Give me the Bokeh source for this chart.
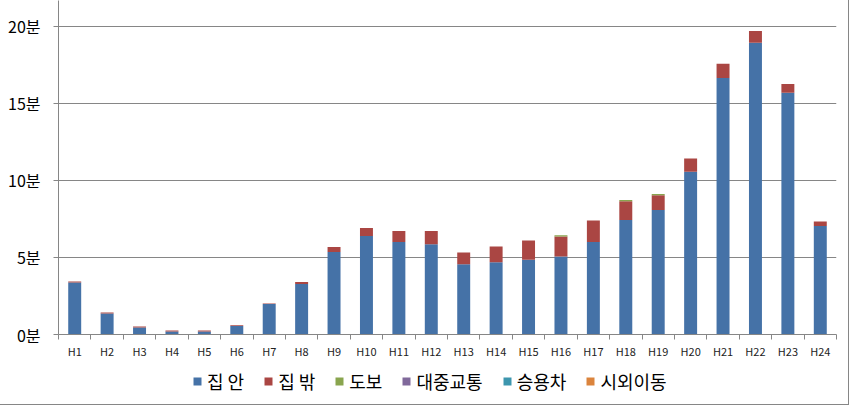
from bokeh.plotting import figure
from bokeh.layouts import column
from bokeh.models import (ColumnDataSource, Legend, LegendItem, FixedTicker,
                          PrintfTickFormatter, Range1d)
from bokeh.embed import file_html
from bokeh.resources import INLINE

categories = [f"H{i}" for i in range(1, 25)]
home_in = [3.38, 1.36, 0.45, 0.19, 0.19, 0.55, 1.97, 3.27, 5.35, 6.38, 6.0, 5.86,
           4.55, 4.68, 4.85, 5.06, 6.0, 7.42, 8.07, 10.56, 16.63, 18.92, 15.68, 7.04]
home_out = [0.06, 0.07, 0.07, 0.07, 0.07, 0.05, 0.04, 0.13, 0.32, 0.52, 0.71, 0.85,
            0.77, 1.03, 1.25, 1.30, 1.40, 1.22, 0.96, 0.85, 0.93, 0.76, 0.57, 0.29]
walk = [0, 0, 0, 0, 0, 0, 0, 0, 0, 0, 0, 0,
        0, 0, 0, 0.07, 0, 0.08, 0.08, 0, 0, 0, 0, 0]
transit = [0] * 24
car = [0] * 24
intercity = [0] * 24

series_names = ["집 안", "집 밖", "도보", "대중교통", "승용차", "시외이동"]
series_keys = ["home_in", "home_out", "walk", "transit", "car", "intercity"]
colors = ["#4572A7", "#AA4643", "#89A54E", "#80699B", "#3D96AE", "#DB843D"]
y_ticks = [0, 5, 10, 15, 20]

x_pos = [i + 0.5 for i in range(len(categories))]
source = ColumnDataSource(dict(x=x_pos, cat=categories, home_in=home_in, home_out=home_out,
                               walk=walk, transit=transit, car=car, intercity=intercity))

FONT = "Noto Sans CJK KR"
GRID = "#868686"
W = 848

p = figure(width=W, height=363, output_backend="svg", toolbar_location=None,
           x_range=Range1d(0, 24), y_range=Range1d(0, 21.66),
           min_border_left=58, min_border_right=12, min_border_top=0, min_border_bottom=29)
p.outline_line_color = None
p.background_fill_color = "white"
p.border_fill_color = "white"

p.vbar_stack(series_keys, x="x", width=0.4, source=source, color=colors, line_color=None)

# x axis: labels at category centers, tick marks at category boundaries
p.xaxis.ticker = FixedTicker(ticks=x_pos, minor_ticks=list(range(0, 25)))
p.xaxis.major_label_overrides = {x: c for x, c in zip(x_pos, categories)}
p.xaxis.major_tick_out = 0
p.xaxis.major_tick_in = 0
p.xaxis.minor_tick_out = 5
p.xaxis.minor_tick_in = 0
p.xaxis.minor_tick_line_color = GRID
p.xaxis.axis_line_color = GRID
p.xaxis.major_label_text_font = FONT
p.xaxis.major_label_text_font_size = "11px"
p.xaxis.major_label_text_color = "#222222"
p.xaxis.major_label_standoff = 3
p.xgrid.grid_line_color = None

p.yaxis.ticker = FixedTicker(ticks=y_ticks)
p.yaxis.formatter = PrintfTickFormatter(format="%d분")
p.yaxis.minor_tick_line_color = None
p.yaxis.major_tick_out = 5
p.yaxis.major_tick_in = 0
p.yaxis.major_tick_line_color = GRID
p.yaxis.axis_line_color = GRID
p.yaxis.major_label_text_font = FONT
p.yaxis.major_label_text_font_size = "16px"
p.yaxis.major_label_text_color = "#000000"
p.yaxis.major_label_standoff = 13
p.ygrid.grid_line_color = GRID
p.ygrid.ticker = FixedTicker(ticks=y_ticks)

# legend strip below the chart (its own renderers sit outside the visible range)
lg = figure(width=W, height=41, output_backend="svg", toolbar_location=None,
            x_range=Range1d(1000, 1001), y_range=Range1d(1000, 1001),
            x_axis_location=None, y_axis_location=None,
            min_border=0, min_border_left=0, min_border_right=0,
            min_border_top=0, min_border_bottom=0)
lg.outline_line_color = None
lg.xgrid.grid_line_color = None
lg.ygrid.grid_line_color = None
legend_renderers = [lg.scatter(x="x", y=k, source=source, marker="square", size=8,
                               color=c, line_color=None)
                    for k, c in zip(series_keys, colors)]
items = [LegendItem(label=n, renderers=[r]) for n, r in zip(series_names, legend_renderers)]
legend = Legend(items=items, orientation="horizontal", location=(129, 10),
                glyph_width=20, glyph_height=20, label_standoff=0, spacing=14,
                label_text_font=FONT, label_text_font_size="18px",
                label_text_color="#000000", border_line_color=None,
                background_fill_alpha=0, padding=0, margin=0)
lg.add_layout(legend, "center")

layout = column(p, lg, spacing=0,
                styles={"border-right": "1px solid #868686",
                        "border-bottom": "1px solid #868686"})

open("out.html", "w").write(file_html(layout, INLINE))
